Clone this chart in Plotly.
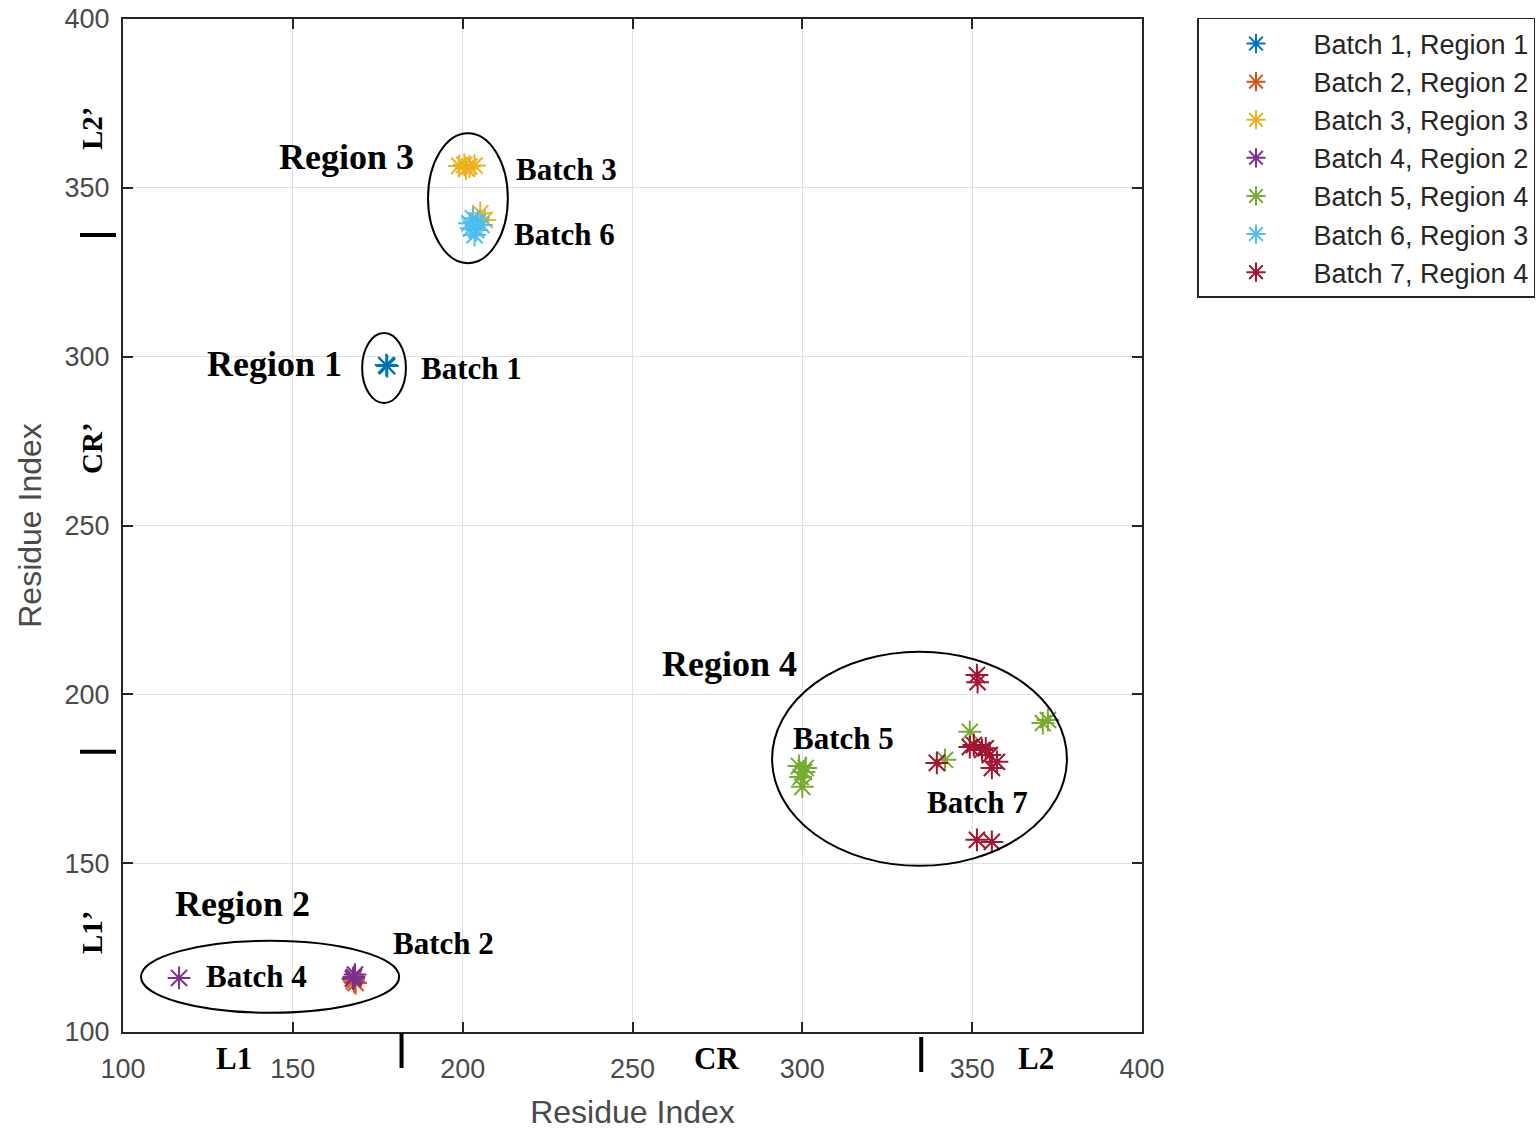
import plotly.graph_objects as go

# Residue-index clusters per batch (x, y)
batch1_x = [177.5, 177.8]
batch1_y = [297.5, 297.2]
batch2_x = [168.0, 168.5, 167.8]
batch2_y = [115.0, 114.5, 115.8]
batch3_x = [199.0, 200.5, 202.0, 203.5, 201.0, 205.2, 206.5]
batch3_y = [356.5, 356.8, 356.3, 356.6, 355.8, 342.5, 340.5]
batch4_x = [116.5, 168.0, 168.3, 167.7]
batch4_y = [116.0, 116.3, 117.0, 115.8]
batch5_x = [299.0, 301.0, 299.5, 300.0, 349.3, 342.0, 372.3, 370.8, 300.5]
batch5_y = [178.8, 178.2, 175.5, 172.6, 188.9, 180.6, 192.4, 191.5, 177.0]
batch6_x = [203.0, 204.5, 202.5, 204.0, 205.5, 203.5, 202.0]
batch6_y = [341.0, 340.0, 338.0, 337.5, 339.0, 336.0, 339.5]
batch7_x = [351.4, 351.6, 339.6, 349.3, 352.9, 355.2, 357.3, 355.8, 351.4, 355.8, 350.5, 354.0]
batch7_y = [205.7, 203.6, 179.7, 184.4, 183.5, 182.0, 180.0, 178.2, 156.9, 156.3, 185.0, 184.0]

names = ["Batch 1, Region 1", "Batch 2, Region 2", "Batch 3, Region 3",
         "Batch 4, Region 2", "Batch 5, Region 4", "Batch 6, Region 3",
         "Batch 7, Region 4"]
colors = ["#0072BD", "#D95319", "#EDB120", "#7E2F8E", "#77AC30", "#4DBEEE", "#A2142F"]
xs = [batch1_x, batch2_x, batch3_x, batch4_x, batch5_x, batch6_x, batch7_x]
ys = [batch1_y, batch2_y, batch3_y, batch4_y, batch5_y, batch6_y, batch7_y]

# Region ellipses: (x0, x1, y0, y1)
region_ellipses = [
    (189.8, 213.3, 327.7, 366.2),
    (170.4, 183.3, 286.3, 307.0),
    (105.3, 181.3, 105.7, 127.0),
    (291.1, 377.9, 149.2, 212.6),
]

# Domain boundaries (L1 | CR | L2)
x_bounds = [182, 335]
y_bounds = [183, 336]

region_labels = [("Region 3", 165.9, 359.1), ("Region 1", 144.7, 297.8),
                 ("Region 4", 278.7, 209.0), ("Region 2", 135.3, 137.9)]
batch_labels = [("Batch 3", 230.7, 355.3), ("Batch 6", 230.1, 336.3),
                ("Batch 1", 202.7, 296.4), ("Batch 5", 312.0, 186.8),
                ("Batch 7", 351.7, 168.1), ("Batch 2", 194.5, 126.1),
                ("Batch 4", 139.2, 116.3)]

# Plot-area geometry in pixels, used for the out-of-axes labels
L, R, T, B = 123, 1142, 19, 1032
PW, PH = R - L, B - T

fig = go.Figure()
for name, c, x, y in zip(names, colors, xs, ys):
    fig.add_trace(go.Scatter(
        x=x, y=y, mode="markers", name=name,
        marker=dict(symbol="asterisk-open", size=19, color=c,
                    line=dict(width=2, color=c)),
    ))

shapes = []
for x0, x1, y0, y1 in region_ellipses:
    shapes.append(dict(type="circle", xref="x", yref="y", x0=x0, x1=x1, y0=y0, y1=y1,
                       line=dict(color="black", width=2)))
shapes.append(dict(type="line", xref="x", yref="paper", x0=x_bounds[0], x1=x_bounds[0],
                   y0=-(1033 - B) / PH, y1=-(1068 - B) / PH, line=dict(color="black", width=4)))
shapes.append(dict(type="line", xref="x", yref="paper", x0=x_bounds[1], x1=x_bounds[1],
                   y0=-(1037 - B) / PH, y1=-(1072 - B) / PH, line=dict(color="black", width=4)))
for yb in y_bounds:
    shapes.append(dict(type="line", xref="paper", yref="y", x0=(80 - L) / PW, x1=(116 - L) / PW,
                       y0=yb, y1=yb, line=dict(color="black", width=4)))

serif = "Liberation Serif"
annotations = []
for t, x, y in region_labels:
    annotations.append(dict(text=f"<b>{t}</b>", x=x, y=y, xref="x", yref="y",
                            xanchor="center", yanchor="middle", showarrow=False,
                            font=dict(family=serif, size=36, color="black")))
for t, x, y in batch_labels:
    annotations.append(dict(text=f"<b>{t}</b>", x=x, y=y, xref="x", yref="y",
                            xanchor="center", yanchor="middle", showarrow=False,
                            font=dict(family=serif, size=31, color="black")))
for t, xp in [("L1", 234), ("CR", 716), ("L2", 1036)]:
    annotations.append(dict(text=f"<b>{t}</b>", x=(xp - L) / PW, y=-(1058 - B) / PH,
                            xref="paper", yref="paper", xanchor="center", yanchor="middle",
                            showarrow=False, font=dict(family=serif, size=31, color="black")))
for t, yp in [("L2\u2019", 128), ("CR\u2019", 448), ("L1\u2019", 932)]:
    annotations.append(dict(text=f"<b>{t}</b>", x=(92 - L) / PW, y=(B - yp) / PH,
                            xref="paper", yref="paper", xanchor="center", yanchor="middle",
                            showarrow=False, textangle=-90,
                            font=dict(family=serif, size=29, color="black")))

axis_common = dict(
    range=[100, 400], tickvals=[100, 150, 200, 250, 300, 350, 400],
    showgrid=True, gridcolor="#e0e0e0", gridwidth=1,
    showline=True, linecolor="#262626", linewidth=2, mirror="ticks",
    ticks="inside", ticklen=10, tickcolor="#262626", tickwidth=1.5,
    zeroline=False, automargin=False,
    tickfont=dict(family="Liberation Sans", size=27, color="#4a4a4a"),
    title_font=dict(family="Liberation Sans", size=32, color="#4a4a4a"),
)

fig.update_layout(
    width=1540, height=1130,
    margin=dict(l=L, r=1540 - R, t=T, b=1130 - B, autoexpand=False),
    paper_bgcolor="white", plot_bgcolor="white",
    shapes=shapes, annotations=annotations,
    xaxis=dict(axis_common, title=dict(text="Residue Index", standoff=17),
               ticklabelstandoff=12),
    yaxis=dict(axis_common, title=dict(text="Residue Index", standoff=13),
               ticklabelstandoff=6),
    legend=dict(x=(1197 - L) / PW, y=1.001, xanchor="left", yanchor="top",
                bgcolor="white", bordercolor="#262626", borderwidth=1.5,
                font=dict(family="Liberation Sans", size=27, color="#262626"),
                itemwidth=105),
)

fig.write_html("out.html")
